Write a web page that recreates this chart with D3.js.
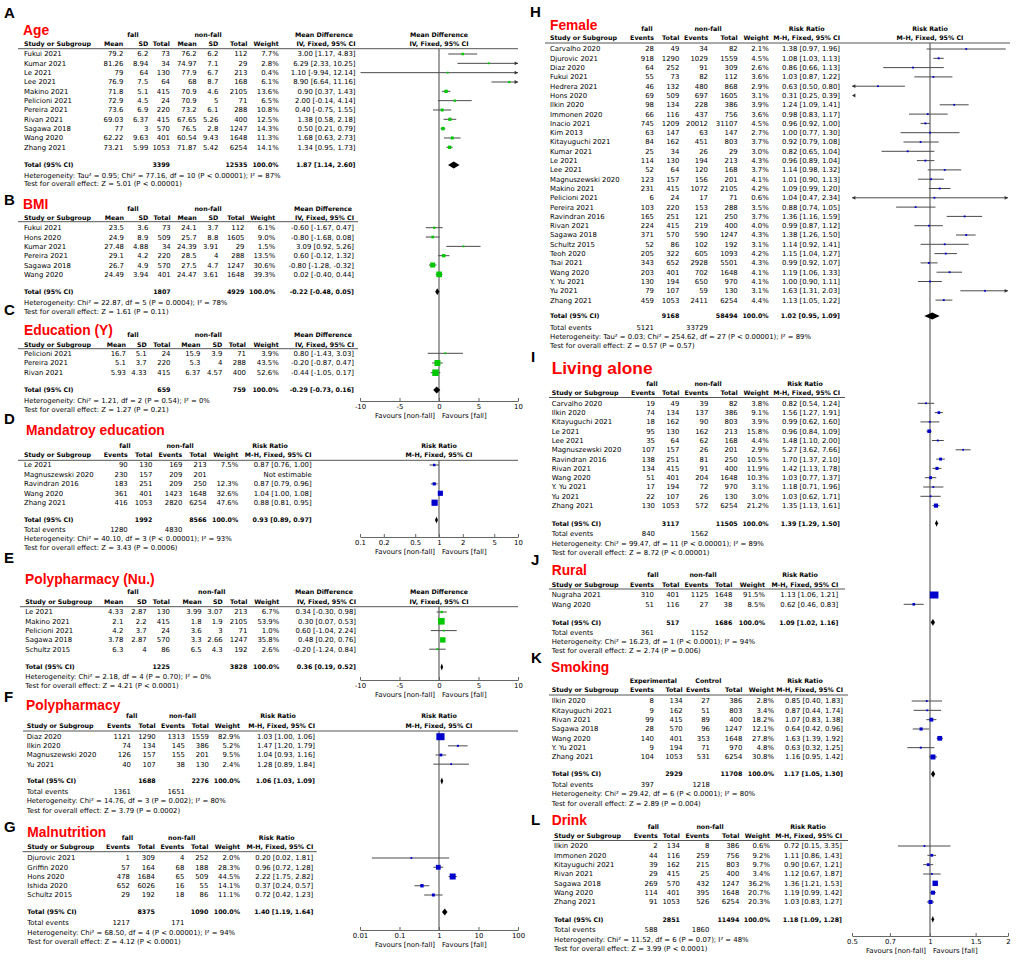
<!DOCTYPE html>
<html><head><meta charset="utf-8">
<script src="https://cdn.jsdelivr.net/npm/d3@7"></script>
<style>
html,body{margin:0;padding:0;background:#fff;}
</style></head>
<body><svg id="c" width="1021" height="968"></svg>
<script>
// ================= DATA =================
// MD rows: [study, fallMean, fallSD, fallN, nonMean, nonSD, nonN, weight, MD, lo, hi]
const ageRows = [
 ["Fukui 2021",79.2,6.2,73,76.2,6.2,112,7.7,3.00,1.17,4.83],
 ["Kumar 2021",81.26,8.94,34,74.97,7.1,29,2.8,6.29,2.33,10.25],
 ["Le 2021",79,64,130,77.9,6.7,213,0.4,1.10,-9.94,12.14],
 ["Lee 2021",76.9,7.5,64,68,8.7,168,6.1,8.90,6.64,11.16],
 ["Makino 2021",71.8,5.1,415,70.9,4.6,2105,13.6,0.90,0.37,1.43],
 ["Pelicioni 2021",72.9,4.5,24,70.9,5,71,6.5,2.00,-0.14,4.14],
 ["Pereira 2021",73.6,6.9,220,73.2,6.1,288,10.8,0.40,-0.75,1.55],
 ["Rivan 2021",69.03,6.37,415,67.65,5.26,400,12.5,1.38,0.58,2.18],
 ["Sagawa 2018",77,3,570,76.5,2.8,1247,14.3,0.50,0.21,0.79],
 ["Wang 2020",62.22,9.63,401,60.54,9.43,1648,11.3,1.68,0.63,2.73],
 ["Zhang 2021",73.21,5.99,1053,71.87,5.42,6254,14.1,1.34,0.95,1.73]
];
const ageTotal = [3399,12535,1.87,1.14,2.60];
const ageStats = ["Heterogeneity: Tau² = 0.95; Chi² = 77.16, df = 10 (P < 0.00001); I² = 87%","Test for overall effect: Z = 5.01 (P < 0.00001)"];

const bmiRows = [
 ["Fukui 2021",23.5,3.6,73,24.1,3.7,112,6.1,-0.60,-1.67,0.47],
 ["Hons 2020",24.9,8.9,509,25.7,8.8,1605,9.0,-0.80,-1.68,0.08],
 ["Kumar 2021",27.48,4.88,34,24.39,3.91,29,1.5,3.09,0.92,5.26],
 ["Pereira 2021",29.1,4.2,220,28.5,4,288,13.5,0.60,-0.12,1.32],
 ["Sagawa 2018",26.7,4.9,570,27.5,4.7,1247,30.6,-0.80,-1.28,-0.32],
 ["Wang 2020",24.49,3.94,401,24.47,3.61,1648,39.3,0.02,-0.40,0.44]
];
const bmiTotal = [1807,4929,-0.22,-0.48,0.05];
const bmiStats = ["Heterogeneity: Chi² = 22.87, df = 5 (P = 0.0004); I² = 78%","Test for overall effect: Z = 1.61 (P = 0.11)"];

const eduRows = [
 ["Pelicioni 2021",16.7,5.1,24,15.9,3.9,71,3.9,0.80,-1.43,3.03],
 ["Pereira 2021",5.1,3.7,220,5.3,4,288,43.5,-0.20,-0.87,0.47],
 ["Rivan 2021",5.93,4.33,415,6.37,4.57,400,52.6,-0.44,-1.05,0.17]
];
const eduTotal = [659,759,-0.29,-0.73,0.16];
const eduStats = ["Heterogeneity: Chi² = 1.21, df = 2 (P = 0.54); I² = 0%","Test for overall effect: Z = 1.27 (P = 0.21)"];

const polyNuRows = [
 ["Le 2021",4.33,2.87,130,3.99,3.07,213,6.7,0.34,-0.30,0.98],
 ["Makino 2021",2.1,2.2,415,1.8,1.9,2105,53.9,0.30,0.07,0.53],
 ["Pelicioni 2021",4.2,3.7,24,3.6,3,71,1.0,0.60,-1.04,2.24],
 ["Sagawa 2018",3.78,2.87,570,3.3,2.66,1247,35.8,0.48,0.20,0.76],
 ["Schultz 2015",6.3,4,86,6.5,4.3,192,2.6,-0.20,-1.24,0.84]
];
const polyNuTotal = [1225,3828,0.36,0.19,0.52];
const polyNuStats = ["Heterogeneity: Chi² = 2.18, df = 4 (P = 0.70); I² = 0%","Test for overall effect: Z = 4.21 (P < 0.0001)"];

// RR rows: [study, fallEvents, fallN, nonEvents, nonN, weight, RR, lo, hi]
const mandRows = [
 ["Le 2021",90,130,169,213,7.5,0.87,0.76,1.00],
 ["Magnuszewski 2020",230,157,209,201,null,null,null,null],
 ["Ravindran 2016",183,251,209,250,12.3,0.87,0.79,0.96],
 ["Wang 2020",361,401,1423,1648,32.6,1.04,1.00,1.08],
 ["Zhang 2021",416,1053,2820,6254,47.6,0.88,0.81,0.95]
];
const mandTotal = [1992,8566,0.93,0.89,0.97];
const mandEvents = [1280,4830];
const mandStats = ["Heterogeneity: Chi² = 40.10, df = 3 (P < 0.00001); I² = 93%","Test for overall effect: Z = 3.43 (P = 0.0006)"];

const polyRows = [
 ["Diaz 2020",1121,1290,1313,1559,82.9,1.03,1.00,1.06],
 ["Ilkin 2020",74,134,145,386,5.2,1.47,1.20,1.79],
 ["Magnuszewski 2020",126,157,155,201,9.5,1.04,0.93,1.16],
 ["Yu 2021",40,107,38,130,2.4,1.28,0.89,1.84]
];
const polyTotal = [1688,2276,1.06,1.03,1.09];
const polyEvents = [1361,1651];
const polyStats = ["Heterogeneity: Chi² = 14.76, df = 3 (P = 0.002); I² = 80%","Test for overall effect: Z = 3.79 (P = 0.0002)"];

const malRows = [
 ["Djurovic 2021",1,309,4,252,2.0,0.20,0.02,1.81],
 ["Griffin 2020",57,164,68,188,28.3,0.96,0.72,1.28],
 ["Hons 2020",478,1684,65,509,44.5,2.22,1.75,2.82],
 ["Ishida 2020",652,6026,16,55,14.1,0.37,0.24,0.57],
 ["Schultz 2015",29,192,18,86,11.1,0.72,0.42,1.23]
];
const malTotal = [8375,1090,1.40,1.19,1.64];
const malEvents = [1217,171];
const malStats = ["Heterogeneity: Chi² = 68.50, df = 4 (P < 0.00001); I² = 94%","Test for overall effect: Z = 4.12 (P < 0.0001)"];

const femRows = [
 ["Carvalho 2020",28,49,34,82,2.1,1.38,0.97,1.96],
 ["Djurovic 2021",918,1290,1029,1559,4.5,1.08,1.03,1.13],
 ["Diaz 2020",64,252,91,309,2.6,0.86,0.66,1.13],
 ["Fukui 2021",55,73,82,112,3.6,1.03,0.87,1.22],
 ["Hedrera 2021",46,132,480,868,2.9,0.63,0.50,0.80],
 ["Hons 2020",69,509,697,1605,3.1,0.31,0.25,0.39],
 ["Ilkin 2020",98,134,228,386,3.9,1.24,1.09,1.41],
 ["Immonen 2020",66,116,437,756,3.6,0.98,0.83,1.17],
 ["Inacio 2021",745,1209,20012,31107,4.5,0.96,0.92,1.00],
 ["Kim 2013",63,147,63,147,2.7,1.00,0.77,1.30],
 ["Kitayuguchi 2021",84,162,451,803,3.7,0.92,0.79,1.08],
 ["Kumar 2021",25,34,26,29,3.0,0.82,0.65,1.04],
 ["Le 2021",114,130,194,213,4.3,0.96,0.89,1.04],
 ["Lee 2021",52,64,120,168,3.7,1.14,0.98,1.32],
 ["Magnuszewski 2020",123,157,156,201,4.1,1.01,0.90,1.13],
 ["Makino 2021",231,415,1072,2105,4.2,1.09,0.99,1.20],
 ["Pelicioni 2021",6,24,17,71,0.6,1.04,0.47,2.34],
 ["Pereira 2021",103,220,153,288,3.5,0.88,0.74,1.05],
 ["Ravindran 2016",165,251,121,250,3.7,1.36,1.16,1.59],
 ["Rivan 2021",224,415,219,400,4.0,0.99,0.87,1.12],
 ["Sagawa 2018",371,570,590,1247,4.3,1.38,1.26,1.50],
 ["Schultz 2015",52,86,102,192,3.1,1.14,0.92,1.41],
 ["Teoh 2020",205,322,605,1093,4.2,1.15,1.04,1.27],
 ["Tsai 2021",343,652,2928,5501,4.3,0.99,0.92,1.07],
 ["Wang 2020",203,401,702,1648,4.1,1.19,1.06,1.33],
 ["Y. Yu 2021",130,194,650,970,4.1,1.00,0.90,1.11],
 ["Yu 2021",79,107,59,130,3.1,1.63,1.31,2.03],
 ["Zhang 2021",459,1053,2411,6254,4.4,1.13,1.05,1.22]
];
const femTotal = [9168,58494,1.02,0.95,1.09];
const femEvents = [5121,33729];
const femStats = ["Heterogeneity: Tau² = 0.03; Chi² = 254.62, df = 27 (P < 0.00001); I² = 89%","Test for overall effect: Z = 0.57 (P = 0.57)"];

const aloneRows = [
 ["Carvalho 2020",19,49,39,82,3.8,0.82,0.54,1.24],
 ["Ilkin 2020",74,134,137,386,9.1,1.56,1.27,1.91],
 ["Kitayuguchi 2021",18,162,90,803,3.9,0.99,0.62,1.60],
 ["Le 2021",95,130,162,213,15.8,0.96,0.84,1.09],
 ["Lee 2021",35,64,62,168,4.4,1.48,1.10,2.00],
 ["Magnuszewski 2020",107,157,26,201,2.9,5.27,3.62,7.66],
 ["Ravindran 2016",138,251,81,250,10.5,1.70,1.37,2.10],
 ["Rivan 2021",134,415,91,400,11.9,1.42,1.13,1.78],
 ["Wang 2020",51,401,204,1648,10.3,1.03,0.77,1.37],
 ["Y. Yu 2021",17,194,72,970,3.1,1.18,0.71,1.96],
 ["Yu 2021",22,107,26,130,3.0,1.03,0.62,1.71],
 ["Zhang 2021",130,1053,572,6254,21.2,1.35,1.13,1.61]
];
const aloneTotal = [3117,11505,1.39,1.29,1.50];
const aloneEvents = [840,1562];
const aloneStats = ["Heterogeneity: Chi² = 99.47, df = 11 (P < 0.00001); I² = 89%","Test for overall effect: Z = 8.72 (P < 0.00001)"];

const ruralRows = [
 ["Nugraha 2021",310,401,1125,1648,91.5,1.13,1.06,1.21],
 ["Wang 2020",51,116,27,38,8.5,0.62,0.46,0.83]
];
const ruralTotal = [517,1686,1.09,1.02,1.16];
const ruralEvents = [361,1152];
const ruralStats = ["Heterogeneity: Chi² = 16.23, df = 1 (P < 0.0001); I² = 94%","Test for overall effect: Z = 2.74 (P = 0.006)"];

const smokeRows = [
 ["Ilkin 2020",8,134,27,386,2.8,0.85,0.40,1.83],
 ["Kitayuguchi 2021",9,162,51,803,3.4,0.87,0.44,1.74],
 ["Rivan 2021",99,415,89,400,18.2,1.07,0.83,1.38],
 ["Sagawa 2018",28,570,96,1247,12.1,0.64,0.42,0.96],
 ["Wang 2020",140,401,353,1648,27.8,1.63,1.39,1.92],
 ["Y. Yu 2021",9,194,71,970,4.8,0.63,0.32,1.25],
 ["Zhang 2021",104,1053,531,6254,30.8,1.16,0.95,1.42]
];
const smokeTotal = [2929,11708,1.17,1.05,1.30];
const smokeEvents = [397,1218];
const smokeStats = ["Heterogeneity: Chi² = 29.42, df = 6 (P < 0.0001); I² = 80%","Test for overall effect: Z = 2.89 (P = 0.004)"];

const drinkRows = [
 ["Ilkin 2020",2,134,8,386,0.6,0.72,0.15,3.35],
 ["Immonen 2020",44,116,259,756,9.2,1.11,0.86,1.43],
 ["Kitayuguchi 2021",39,162,215,803,9.7,0.90,0.67,1.21],
 ["Rivan 2021",29,415,25,400,3.4,1.12,0.67,1.87],
 ["Sagawa 2018",269,570,432,1247,36.2,1.36,1.21,1.53],
 ["Wang 2020",114,401,395,1648,20.7,1.19,0.99,1.42],
 ["Zhang 2021",91,1053,526,6254,20.3,1.03,0.83,1.27]
];
const drinkTotal = [2851,11494,1.18,1.09,1.28];
const drinkEvents = [588,1860];
const drinkStats = ["Heterogeneity: Chi² = 11.52, df = 6 (P = 0.07); I² = 48%","Test for overall effect: Z = 3.99 (P < 0.0001)"];

const mdTicks = [-10,-5,0,5,10];
const rr10Ticks = [0.1,0.2,0.5,1,2,5,10];
const rr100Ticks = [0.01,0.1,1,10,100];
const rr2Ticks = [0.5,0.7,1,1.5,2];
const mdColNames = ["Mean","SD","Total","Mean","SD","Total","Weight","IV, Fixed, 95% CI"];
const rrColNames = ["Events","Total","Events","Total","Weight","M-H, Fixed, 95% CI"];

// ================= RENDER =================
const FS = 6.9, FB = 6.3;
const F1 = "'DejaVu Sans', Verdana, sans-serif";
const F2 = "'Liberation Sans', Arial, sans-serif";
const svg = d3.select("#c");
svg.append("rect").attr("width",1021).attr("height",968).attr("fill","#fff");

function T(g,x,y,s,o={}){
  return g.append("text").attr("x",x).attr("y",y).attr("dy","0.36em")
   .attr("text-anchor",o.a||"start").attr("font-size",o.s||(o.b?FB:FS))
   .attr("font-weight",o.b?"bold":"normal").attr("font-family",o.f||F1)
   .attr("fill",o.c||"#000").text(s);
}
function ciText(e,l,h){return e.toFixed(2)+" ["+l.toFixed(2)+", "+h.toFixed(2)+"]";}

const scMD = d3.scaleLinear().domain([-10,10]).range([360,518]);
const scRR10 = d3.scaleLog().domain([0.1,10]).range([360,518]);
const scRR5 = d3.scaleLog().domain([0.2,5]).range([360,518]);
const scRR100 = d3.scaleLog().domain([0.01,100]).range([360,518]);
const scR2 = d3.scaleLog().domain([0.5,2]).range([852,1008]);
const scR50 = d3.scaleLog().domain([0.02,50]).range([852,1008]);
const scR10 = d3.scaleLog().domain([0.1,10]).range([852,1008]);
const scR100 = d3.scaleLog().domain([0.01,100]).range([852,1008]);

function arrow(g,x,y,dir){
  g.append("path").attr("d",`M${x},${y}L${x-dir*3.4},${y-1.9}L${x-dir*3.4},${y+1.9}Z`).attr("fill","#333");
}
function ciMark(g,sc,y,e,l,h,w,col){
  const [d0,d1]=sc.domain();
  if (h < d0) { arrow(g,sc(d0),y,-1); return; }
  if (l > d1) { arrow(g,sc(d1),y,1); return; }
  const x0 = sc(Math.max(l,d0)), x1 = sc(Math.min(h,d1));
  g.append("line").attr("x1",x0).attr("x2",x1).attr("y1",y).attr("y2",y).attr("stroke","#4a4a4a").attr("stroke-width",1);
  if (l <= d0) arrow(g,sc(d0),y,-1);
  if (h > d1) arrow(g,sc(d1),y,1);
  if (e>=d0 && e<=d1){
    const s = Math.max(1.8, 0.9*Math.sqrt(w)), hh = Math.min(s,7);
    g.append("rect").attr("x",sc(e)-s/2).attr("y",y-hh/2).attr("width",s).attr("height",hh).attr("fill",col);
  }
}
function diamond(g,sc,y,e,l,h){
  g.append("path").attr("d",`M${sc(l)},${y}L${sc(e)},${y-3.4}L${sc(h)},${y}L${sc(e)},${y+3.4}Z`).attr("fill","#000");
}

function panel(L, rows, total, events, stats, sc, col){
  const g = svg.append("g");
  T(g,L.lx,L.ly,L.letter,{s:15,b:true,f:F2});
  T(g,L.tx,L.ty,L.title,{s:L.ts||13.8,b:true,f:F2,c:"#ff0000"});
  L.grp.forEach(([t,x])=>T(g,x,L.gy,t,{b:true,a:"middle"}));
  T(g,L.hx,L.hy,"Study or Subgroup",{b:true});
  const md = L.type==="MD";
  const names = md?mdColNames:rrColNames;
  names.forEach((n,i)=>T(g,L.cols[i],L.hy,n,{b:true,a:"end"}));
  g.append("line").attr("x1",L.ul[1]).attr("x2",L.ul[2]).attr("y1",L.ul[0]).attr("y2",L.ul[0]).attr("stroke","#555").attr("stroke-width",1);
  const nv = md?6:4;
  rows.forEach((r,i)=>{
    const y = L.y0 + i*L.dy;
    T(g,L.hx,y,r[0]);
    for(let k=0;k<nv;k++) T(g,L.cols[k],y,String(r[k+1]),{a:"end"});
    const w = r[nv+1];
    if (w!=null){
      T(g,L.cols[nv],y,w.toFixed(1)+"%",{a:"end"});
      T(g,L.cols[nv+1],y,ciText(r[nv+2],r[nv+3],r[nv+4]),{a:"end"});
      ciMark(g,sc,y,r[nv+2],r[nv+3],r[nv+4],w,col);
    } else T(g,L.cols[nv+1],y,"Not estimable",{a:"end"});
  });
  T(g,L.hx,L.totY,"Total (95% CI)",{b:true});
  T(g,L.cols[md?2:1],L.totY,String(total[0]),{b:true,a:"end"});
  T(g,L.cols[md?5:3],L.totY,String(total[1]),{b:true,a:"end"});
  T(g,L.cols[nv],L.totY,"100.0%",{b:true,a:"end"});
  T(g,L.cols[nv+1],L.totY,ciText(total[2],total[3],total[4]),{b:true,a:"end"});
  diamond(g,sc,L.totY,total[2],total[3],total[4]);
  if (events){
    T(g,L.hx,L.evY,"Total events");
    T(g,L.cols[0],L.evY,String(events[0]),{a:"end"});
    T(g,L.cols[2],L.evY,String(events[1]),{a:"end"});
  }
  T(g,L.hx,L.hetY,stats[0]);
  T(g,L.hx,L.testY,stats[1]);
}

function plotFrame(cx,y1,y2,hdr,hdrY){
  const g = svg.append("g");
  g.append("line").attr("x1",cx).attr("x2",cx).attr("y1",y1).attr("y2",y2).attr("stroke","#8a8a8a").attr("stroke-width",1.6);
  if (hdr){ T(g,cx,hdrY[0],hdr[0],{b:true,a:"middle"}); T(g,cx,hdrY[1],hdr[1],{b:true,a:"middle"}); }
}
function axis(sc,y,ticks,fmt){
  const g = svg.append("g").attr("transform",`translate(0,${y})`);
  g.call(d3.axisBottom(sc).tickValues(ticks).tickFormat(fmt).tickSizeInner(-3).tickSizeOuter(0).tickPadding(3));
  g.select(".domain").attr("stroke","#666");
  g.selectAll(".tick line").attr("stroke","#666");
  g.selectAll(".tick text").attr("font-size",FS).attr("font-family",F1).attr("fill","#000");
  const cx = sc(ticks.includes(0)?0:1);
  T(svg,cx-4,y+15,"Favours [non-fall]",{a:"end"});
  T(svg,cx+3,y+15,"Favours [fall]");
}

// ---- layouts ----
const LA = {type:"MD",letter:"A",lx:4,ly:13,title:"Age",tx:23,ty:30,gy:34.7,grp:[["fall",133],["non-fall",208],["Mean Difference",324]],
  hy:44,hx:24,cols:[123.3,148.3,170,196.7,218.3,247.3,278.7,355.5],ul:[48.7,18,518],y0:54,dy:9.33,totY:165,hetY:175.7,testY:184};
const LB = {type:"MD",letter:"B",lx:4,ly:200,title:"BMI",tx:23,ty:204.3,gy:209,grp:[["fall",133],["non-fall",208],["Mean Difference",323]],
  hy:217.7,hx:24,cols:[124,148.3,170.7,196.7,218.3,244.5,275.3,354],ul:[221.7,18,358],y0:227.7,dy:9.33,totY:291.7,hetY:302.3,testY:311.7};
const LC = {type:"MD",letter:"C",lx:4,ly:310,title:"Education (Y)",tx:24,ty:330,gy:334.3,grp:[["fall",133],["non-fall",208.3],["Mean Difference",323]],
  hy:344.3,hx:24,cols:[126,146.7,170.5,200.5,222.3,246,278.7,354],ul:[348.7,18,358],y0:353.3,dy:9.7,totY:390,hetY:400.7,testY:410};
const LD = {type:"RR",letter:"D",lx:4,ly:418.3,title:"Mandatroy education",tx:26,ty:430,gy:445.7,grp:[["fall",125],["non-fall",180],["Risk Ratio",270]],
  hy:455,hx:24,cols:[127.7,152.3,182.3,206.7,238.3,311.7],ul:[460.3,18,518],y0:465,dy:9.43,totY:520,evY:530,hetY:539,testY:548};
const LE = {type:"MD",letter:"E",lx:4,ly:558,title:"Polypharmacy (Nu.)",tx:25,ty:579,gy:591.7,grp:[["fall",133],["non-fall",211.7],["Mean Difference",324]],
  hy:601.7,hx:25.3,cols:[123.3,146.7,170,201.7,222.7,247.3,279.3,356],ul:[606.7,20,518],y0:612,dy:9.3,totY:667,hetY:676.7,testY:686};
const LF = {type:"RR",letter:"F",lx:4,ly:697,title:"Polypharmacy",tx:26,ty:705,gy:716,grp:[["fall",131.7],["non-fall",182.5],["Risk Ratio",278]],
  hy:726,hx:26.7,cols:[131,155.7,185,209,240,315],ul:[731,23,518],y0:736.7,dy:9.15,totY:781,evY:791.7,hetY:801,testY:810.7};
const LG = {type:"RR",letter:"G",lx:4,ly:826.7,title:"Malnutrition",tx:27.3,ty:832.3,gy:837.7,grp:[["fall",127.5],["non-fall",181.7],["Risk Ratio",276.7]],
  hy:847,hx:27.3,cols:[130,155,184.3,208.3,240,313.3],ul:[851.7,22.7,316.7],y0:858,dy:9.25,totY:912,evY:922.7,hetY:932.3,testY:941.7};

const LH = {type:"RR",letter:"H",lx:530,ly:12,title:"Female",tx:550,ty:25,gy:29,grp:[["fall",647],["non-fall",708],["Risk Ratio",806.7]],
  hy:38,hx:550,cols:[654,679.3,708,737.7,768.7,840],ul:[43,545,1010],y0:49,dy:9.3,totY:316,evY:327.7,hetY:337,testY:345.7};
const LI = {type:"RR",letter:"I",lx:531,ly:357,title:"Living alone",tx:551.7,ty:368,ts:17.3,gy:384,grp:[["fall",652],["non-fall",708],["Risk Ratio",805]],
  hy:393,hx:551.7,cols:[655,679.3,708.3,737.7,768.7,840],ul:[397.5,549,845],y0:403.3,dy:9.3,totY:523.3,evY:533.3,hetY:543.3,testY:552.7};
const LJ = {type:"RR",letter:"J",lx:531,ly:560,title:"Rural",tx:551.7,ty:570,gy:575,grp:[["fall",653],["non-fall",703],["Risk Ratio",800]],
  hy:584.3,hx:551.7,cols:[654,679.3,708.3,732.3,765,838.3],ul:[589,549,845],y0:595,dy:9.3,totY:622.3,evY:632.3,hetY:641.7,testY:651};
const LK = {type:"RR",letter:"K",lx:531,ly:658,title:"Smoking",tx:551,ty:667.3,gy:681,grp:[["Experimental",653.3],["Control",708.3],["Risk Ratio",805]],
  hy:690,hx:551.7,cols:[654,682.7,710,742.3,774,843],ul:[695,549,848],y0:701,dy:9.33,totY:774,evY:784.3,hetY:793.7,testY:803.3};
const LL = {type:"RR",letter:"L",lx:531,ly:820,title:"Drink",tx:551.7,ty:820,gy:826.7,grp:[["fall",653.3],["non-fall",710],["Risk Ratio",808]],
  hy:836,hx:554,cols:[657.7,680,709.3,739.3,770,842],ul:[840.5,552.7,848],y0:846,dy:9.33,totY:919.3,evY:930,hetY:939.3,testY:949};

plotFrame(scMD(0),48.7,401,["Mean Difference","IV, Fixed, 95% CI"],[34.7,44]);
plotFrame(scRR10(1),460.3,537,["Risk Ratio","M-H, Fixed, 95% CI"],[445.7,455]);
plotFrame(scMD(0),606.7,680,["Mean Difference","IV, Fixed, 95% CI"],[591.7,601.7]);
plotFrame(scRR100(1),731,930,["Risk Ratio","M-H, Fixed, 95% CI"],[716,726]);
plotFrame(scR2(1),43,936,["Risk Ratio","M-H, Fixed, 95% CI"],[29,38]);

const GREEN = "#00c800", BLUE = "#0000cc";
panel(LA, ageRows, ageTotal, null, ageStats, scMD, GREEN);
panel(LB, bmiRows, bmiTotal, null, bmiStats, scMD, GREEN);
panel(LC, eduRows, eduTotal, null, eduStats, scMD, GREEN);
panel(LD, mandRows, mandTotal, mandEvents, mandStats, scRR10, BLUE);
panel(LE, polyNuRows, polyNuTotal, null, polyNuStats, scMD, GREEN);
panel(LF, polyRows, polyTotal, polyEvents, polyStats, scRR5, BLUE);
panel(LG, malRows, malTotal, malEvents, malStats, scRR100, BLUE);
panel(LH, femRows, femTotal, femEvents, femStats, scR2, BLUE);
panel(LI, aloneRows, aloneTotal, aloneEvents, aloneStats, scR50, BLUE);
panel(LJ, ruralRows, ruralTotal, ruralEvents, ruralStats, scR10, BLUE);
panel(LK, smokeRows, smokeTotal, smokeEvents, smokeStats, scR50, BLUE);
panel(LL, drinkRows, drinkTotal, drinkEvents, drinkStats, scR100, BLUE);

axis(scMD,401,mdTicks,d=>String(d));
axis(scRR10,537,rr10Ticks,d=>String(d));
axis(scMD,680,mdTicks,d=>String(d));
axis(scRR100,930,rr100Ticks,d=>String(d));
axis(scR2,936,rr2Ticks,d=>String(d));
</script></body></html>
